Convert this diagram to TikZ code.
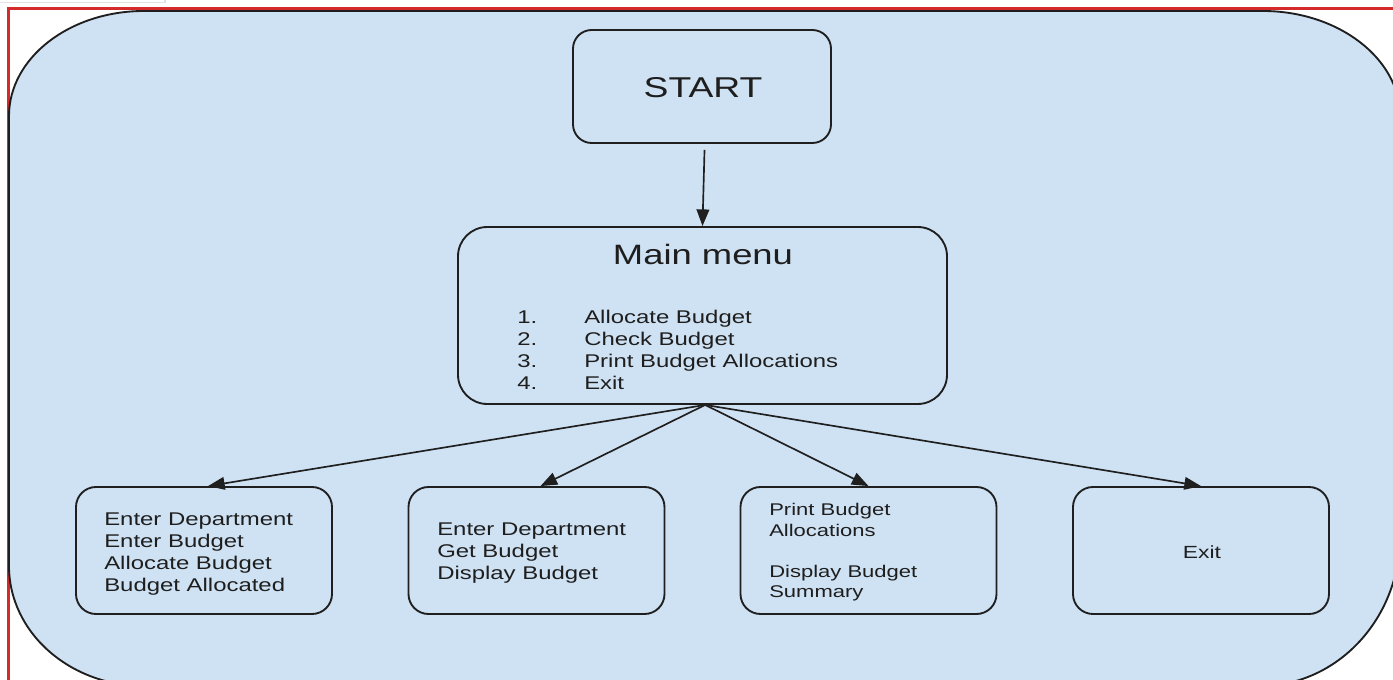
\documentclass[tikz,border=0pt]{standalone}
\usepackage{fontspec}
\setmainfont{Liberation Sans}[FakeStretch=1.3]
\usetikzlibrary{arrows.meta}
\definecolor{bfill}{HTML}{CFE2F3}
\definecolor{linec}{HTML}{1F1F1F}
\definecolor{txtc}{HTML}{1E1E1E}
\definecolor{redframe}{HTML}{D42A2A}
\definecolor{grayline}{HTML}{E2E2E2}
\begin{document}
\begin{tikzpicture}[x=0.75pt,y=-0.75pt,
  box/.style={draw=linec, line width=1.4pt, fill=bfill, inner sep=0pt},
  smallbox/.style={box, rounded corners=15pt, minimum width=192pt, minimum height=95.25pt},
  lbl/.style={text=txtc, inner sep=0pt, anchor=base west},
  fmid/.style={font=\fontsize{13.8}{16}\selectfont},
  fsmall/.style={font=\fontsize{12.7}{15}\selectfont},
  arr/.style={draw=linec, line width=1.25pt, -{Triangle[length=12.5pt,width=9.5pt]}}]
\useasboundingbox (0,0) rectangle (1393,680);
\fill[white] (0,0) rectangle (1393,680);
% faint grey line and red frame
\draw[grayline, line width=1.2pt] (0,2.5) -- (165,2.5) -- (165,0);
\draw[redframe, line width=1.6pt] (8.5,680) -- (8.5,8.5) -- (1393,8.5);
% big rounded background
\begin{scope}
\clip (0,0) rectangle (1393,680);
\draw[draw=linec, line width=1.4pt, fill=bfill]
  (144,11) -- (1263,11) .. controls (1337.5,11) and (1400,58) .. (1400,116)
  -- (1400,536) .. controls (1400,618.8) and (1337.3,686) .. (1260,686)
  -- (144,686) .. controls (69.5,686) and (9,632.2) .. (9,566)
  -- (9,116) .. controls (9,58) and (69.5,11) .. (144,11) -- cycle;
\end{scope}
% boxes
\node[box, rounded corners=14pt, minimum width=193.5pt, minimum height=84.75pt] (start) at (702,86.5) {};
\node[box, rounded corners=22pt, minimum width=366.75pt, minimum height=132.75pt] (menu) at (702.5,315.5) {};
\node[smallbox] (b1) at (204,550.5) {};
\node[smallbox] (b2) at (536.5,550.5) {};
\node[smallbox] (b3) at (868.5,550.5) {};
\node[smallbox] (b4) at (1201,550.5) {};
% texts
\node[lbl, anchor=base, font=\fontsize{21.5}{24}\selectfont] (tstart) at (703,98) {START};
\node[lbl, anchor=base, font=\fontsize{21}{24}\selectfont] (tmenu) at (703,265) {Main menu};
\node[lbl, fmid] (n1) at (517,324) {1.};
\node[lbl, fmid] (n2) at (517,346) {2.};
\node[lbl, fmid] (n3) at (517,368) {3.};
\node[lbl, fmid] (n4) at (517,390) {4.};
\node[lbl, fmid] (i1) at (584,324) {Allocate Budget};
\node[lbl, fmid] (i2) at (584,346) {Check Budget};
\node[lbl, fmid] (i3) at (584,368) {Print Budget Allocations};
\node[lbl, fmid] (i4) at (584,390) {Exit};
\node[lbl, fmid] (a1) at (104,526) {Enter Department};
\node[lbl, fmid] (a2) at (104,548) {Enter Budget};
\node[lbl, fmid] (a3) at (104,570) {Allocate Budget};
\node[lbl, fmid] (a4) at (104,592) {Budget Allocated};
\node[lbl, fmid] (c1) at (437,536) {Enter Department};
\node[lbl, fmid] (c2) at (437,558) {Get Budget};
\node[lbl, fmid] (c3) at (437,580) {Display Budget};
\node[lbl, fsmall] (p1) at (769,516) {Print Budget};
\node[lbl, fsmall] (p2) at (769,537) {Allocations};
\node[lbl, fsmall] (p3) at (769,578) {Display Budget};
\node[lbl, fsmall] (p4) at (769,598) {Summary};
\node[lbl, anchor=base, font=\fontsize{13.2}{16}\selectfont] (e1) at (1202,559) {Exit};
% connectors
\draw[arr, shorten <=4.5pt] ([xshift=2pt]start.south) -- (menu.north);
\draw[arr] ([xshift=2pt]menu.south) -- ([xshift=3pt]b1.north);
\draw[arr] ([xshift=2pt]menu.south) -- ([xshift=3pt]b2.north);
\draw[arr] ([xshift=2pt]menu.south) -- (b3.north);
\draw[arr] ([xshift=2pt]menu.south) -- (b4.north);
\end{tikzpicture}
\end{document}
